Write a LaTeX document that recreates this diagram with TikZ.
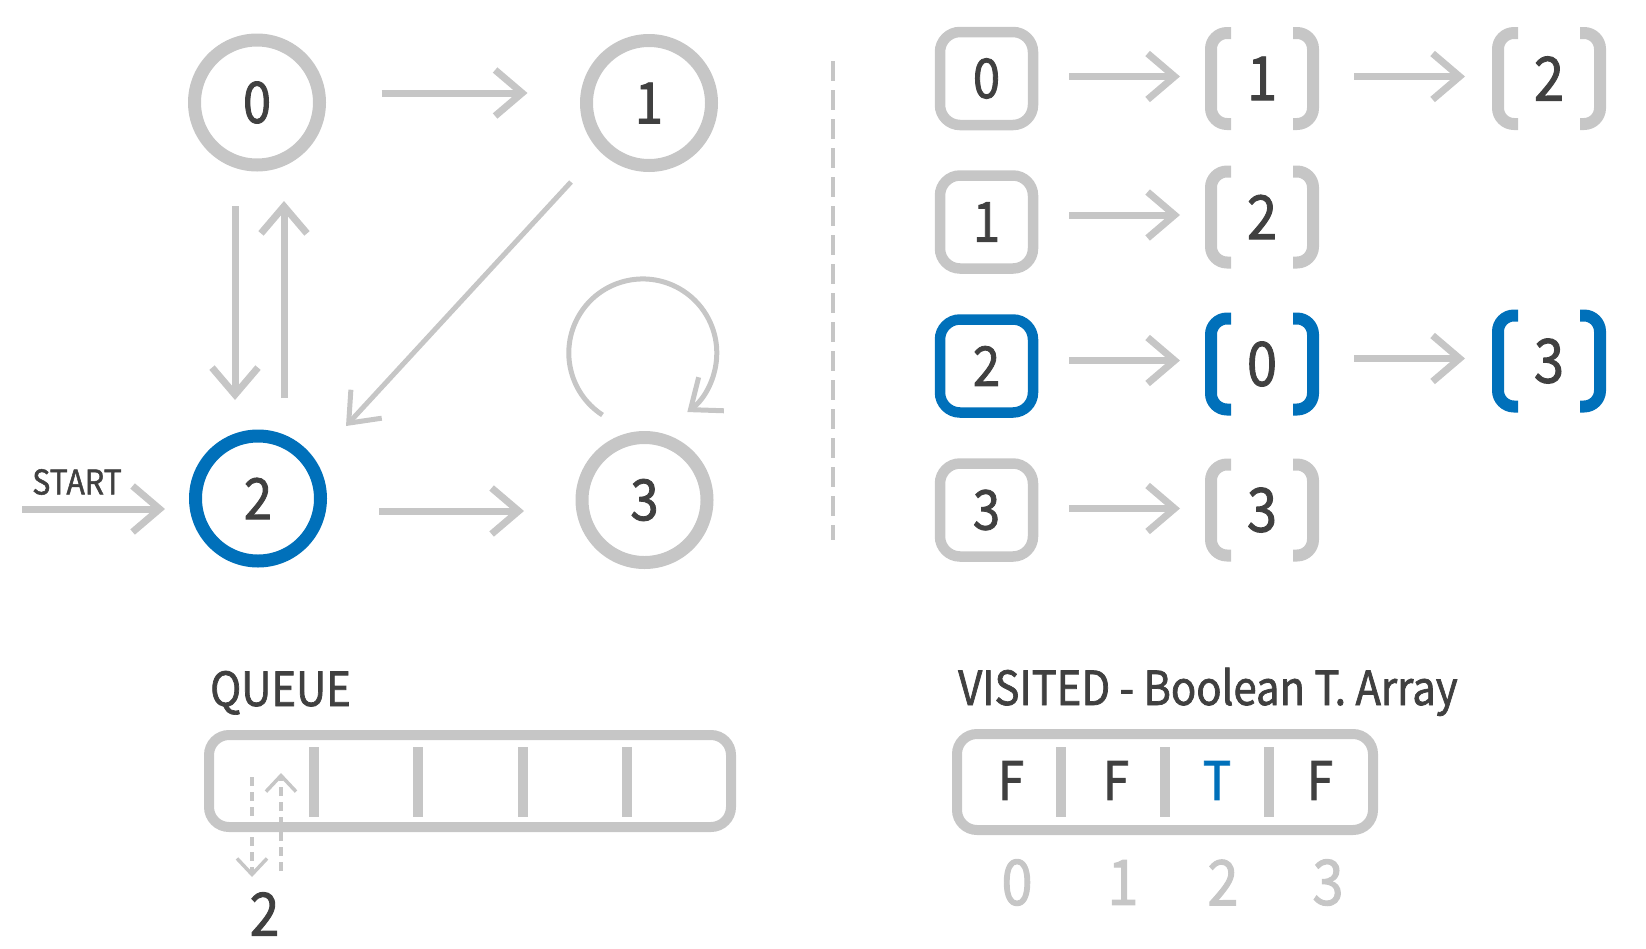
\documentclass[tikz,border=0pt]{standalone}
\usepackage{fontspec}
\setmainfont{Noto Sans CJK KR}[FakeStretch=0.89,FakeBold=1.5]
\usetikzlibrary{arrows.meta,calc}
\definecolor{gr}{RGB}{198,198,198}
\definecolor{bl}{RGB}{0,112,186}
\definecolor{tx}{RGB}{64,64,64}
\newcommand\drawbrk[2]{%
  \draw[brkline,draw=#2] ([xshift=20pt]#1.north west) -- (#1.north west) -- (#1.south west) -- ([xshift=20pt]#1.south west);
  \draw[brkline,draw=#2] ([xshift=-20pt]#1.north east) -- (#1.north east) -- (#1.south east) -- ([xshift=-20pt]#1.south east);}
\begin{document}
\begin{tikzpicture}[x=1pt,y=-1pt,
 vert/.style={circle,draw=gr,line width=13pt,outer sep=0pt,minimum size=125pt,inner sep=0pt,text=tx,font=\fontsize{57}{60}\selectfont},
 box/.style={rectangle,draw=gr,line width=10.5pt,outer sep=0pt,rounded corners=20pt,minimum size=93pt,inner sep=0pt,text=tx,font=\fontsize{55}{58}\selectfont},
 brk/.style={rectangle,outer sep=0pt,minimum width=102pt,minimum height=91pt,inner sep=0pt,text=tx,font=\fontsize{61}{64}\selectfont},
 brkline/.style={line width=12pt,rounded corners=16pt},
 arr/.style={draw=gr,line width=7pt,-{Straight Barb[length=27pt,width=46pt]}},
 thinarr/.style={draw=gr,line width=5pt,-{Straight Barb[length=26pt,width=42pt]}},
 qarr/.style={draw=gr,line width=3.5pt,dash pattern=on 9pt off 6pt,-{Straight Barb[length=16pt,width=30pt]}},
 lbl/.style={text=tx,inner sep=0pt,anchor=base west},
 frame/.style={draw=gr,line width=10pt,rounded corners=20pt,inner sep=0pt},
 divl/.style={draw=gr,line width=10pt},
]
\useasboundingbox (0,0) rectangle (1646,948);

% ---------- graph ----------
\node[vert] (n0) at (257,102.5) {0};
\node[vert] (n1) at (649,103) {1};
\node[vert,draw=bl] (n2) at (258,498.5) {2};
\node[vert] (n3) at (644.5,500) {3};

\draw[arr] ($(n0.east)+(62,-9.5)$) -- ($(n1.west)+(-59,-10)$);
\draw[arr] ($(n0.south)+(-22,41)$) -- ($(n2.north)+(-23,-36)$);
\draw[arr] ($(n2.north)+(26,-38)$) -- ($(n0.south)+(27,36)$);
\draw[thinarr] ($(n1.center)+(-78,79)$) -- ($(n2.center)+(88,-72.5)$);
\draw[arr] ($(n2.east)+(58.5,12.5)$) -- ($(n3.west)+(-58,11)$);
\coordinate (s) at (22,509);
\draw[arr] (s) -- ($(n2.west)+(-30.5,10.5)$);
\node[text=tx,inner sep=0pt,font=\fontsize{34}{36}\selectfont] (st) at (77,482) {START};
\draw[thinarr] ($(n3.center)+(-42,-85)$) arc[start angle=237,end angle=-53,radius=74pt];

% ---------- separator ----------
\coordinate (d1) at (833,61);
\coordinate (d2) at (833,540);
\draw[gr,line width=4pt,dash pattern=on 20pt off 9pt] (d1) -- (d2);

% ---------- adjacency list ----------
\node[box] (a0) at (986.5,78.5) {0};
\node[box] (a1) at (986.5,222) {1};
\node[box,draw=bl] (a2) at (986.5,366) {2};
\node[box] (a3) at (986.5,510) {3};

\node[brk] (b01) at (1262,78.5) {1};
\node[brk] (b02) at (1549,78.5) {2};
\node[brk] (b1) at (1262,217) {2};
\node[brk] (b2) at (1262,364) {0};
\node[brk] (b22) at (1549,361) {3};
\node[brk] (b3) at (1262,510) {3};
\drawbrk{b01}{gr}
\drawbrk{b02}{gr}
\drawbrk{b1}{gr}
\drawbrk{b2}{bl}
\drawbrk{b22}{bl}
\drawbrk{b3}{gr}

\draw[arr] ($(a0.east)+(36,-2)$) -- ($(b01.west)+(-31,-2)$);
\draw[arr] ($(b01.east)+(41,-2)$) -- ($(b02.west)+(-33,-2)$);
\draw[arr] ($(a1.east)+(36,-7)$) -- ($(b1.west)+(-31,-2)$);
\draw[arr] ($(a2.east)+(36,-5.5)$) -- ($(b2.west)+(-31,-3.5)$);
\draw[arr] ($(b2.east)+(41,-5.5)$) -- ($(b22.west)+(-33,-2.5)$);
\draw[arr] ($(a3.east)+(36,-1.5)$) -- ($(b3.west)+(-31,-1.5)$);

% ---------- queue ----------
\node[lbl,font=\fontsize{47}{50}\selectfont] (ql) at (210,706) {QUEUE};
\node[frame,minimum width=522pt,minimum height=92pt] (q) at (470,781) {};
\foreach \x in {314,418,523,627} \draw[divl] (\x,747) -- (\x,817);
\node[text=tx,inner sep=0pt,font=\fontsize{60}{62}\selectfont] (q2) at (264.5,914) {2};
\coordinate (qa) at (252,777);
\coordinate (qb) at (252,877);
\coordinate (qc) at (281,871);
\coordinate (qd) at (281,773);
\draw[qarr] (qa) -- (qb);
\draw[qarr] (qc) -- (qd);

% ---------- visited ----------
\node[lbl,font=\fontsize{47}{50}\selectfont] (vl) at (958,705) {VISITED - Boolean T. Array};
\node[frame,minimum width=416pt,minimum height=96pt] (v) at (1165,782) {};
\foreach \x in {1061,1165,1269} \draw[divl] (\x,747) -- (\x,817);
\begin{scope}[every node/.style={inner sep=0pt,font=\fontsize{53}{56}\selectfont}]
\node[text=tx] (f0) at (1011,780.5) {F};
\node[text=tx] (f1) at (1116,780.5) {F};
\node[text=bl] (f2) at (1217,780.5) {T};
\node[text=tx] (f3) at (1320,780.5) {F};
\end{scope}
\begin{scope}[every node/.style={inner sep=0pt,text=gr,font=\fontsize{63}{66}\selectfont}]
\node (i0) at (1017,882.5) {0};
\node (i1) at (1123,882.5) {1};
\node (i2) at (1223,882.5) {2};
\node (i3) at (1328,882.5) {3};
\end{scope}
\end{tikzpicture}
\end{document}
